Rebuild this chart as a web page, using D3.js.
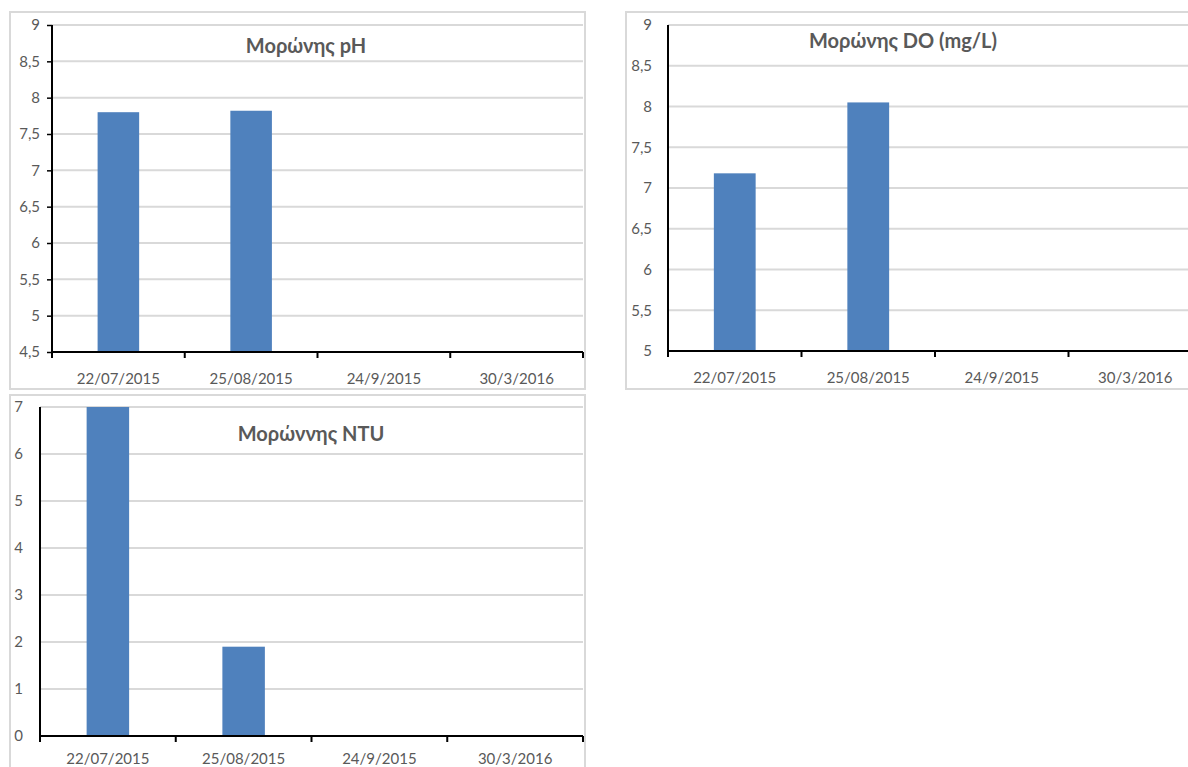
<!DOCTYPE html>
<html>
<head>
<meta charset="utf-8">
<script src="https://cdn.jsdelivr.net/npm/d3@7"></script>
<style>
  html, body { margin: 0; padding: 0; background: #ffffff; }
  svg { display: block; }
  text { font-family: Lato, "Noto Sans", sans-serif; fill: #595959; }
</style>
</head>
<body>
<svg id="chart" width="1188" height="767"></svg>
<script>
// Sampling dates shared by all three panels
const dates = ["22/07/2015", "25/08/2015", "24/9/2015", "30/3/2016"];

// Measured values (null = no measurement)
const phValues  = [7.80, 7.82, null, null];
const doValues  = [7.18, 8.05, null, null];
const ntuValues = [7.0, 1.9, null, null];

// Axis ticks
const phTicks  = [4.5, 5, 5.5, 6, 6.5, 7, 7.5, 8, 8.5, 9];
const doTicks  = [5, 5.5, 6, 6.5, 7, 7.5, 8, 8.5, 9];
const ntuTicks = [0, 1, 2, 3, 4, 5, 6, 7];

// Panel titles
const phTitle  = "Μορώνης pH";
const doTitle  = "Μορώνης DO (mg/L)";
const ntuTitle = "Μορώννης NTU";

const svg = d3.select("#chart");
const fmt = v => String(v).replace(".", ",");

function panel(opts) {
  const g = svg.append("g");
  // chart frame
  g.append("rect")
    .attr("x", opts.frame[0]).attr("y", opts.frame[1])
    .attr("width", opts.frame[2]).attr("height", opts.frame[3])
    .attr("fill", "#fff").attr("stroke", "#d9d9d9").attr("stroke-width", 2);

  const x = d3.scaleBand().domain(dates)
    .range([opts.left, opts.right]).paddingInner(0.687).paddingOuter(0.3435);
  const xb = d3.scaleBand().domain(dates).range([opts.left, opts.right]);
  const y = d3.scaleLinear().domain([opts.ticks[0], opts.ticks[opts.ticks.length - 1]])
    .range([opts.bottom, opts.top]);

  // horizontal gridlines
  g.append("g").selectAll("line").data(opts.ticks.slice(1)).join("line")
    .attr("x1", opts.left).attr("x2", opts.right)
    .attr("y1", d => y(d)).attr("y2", d => y(d))
    .attr("stroke", "#d9d9d9").attr("stroke-width", 2);

  // bars
  g.append("g").selectAll("rect")
    .data(dates.map((d, i) => ({ d, v: opts.values[i] })).filter(o => o.v != null))
    .join("rect")
    .attr("x", o => x(o.d)).attr("width", x.bandwidth())
    .attr("y", o => y(o.v)).attr("height", o => y(opts.ticks[0]) - y(o.v))
    .attr("fill", "#4f81bd");

  // y axis
  const yAxis = d3.axisLeft(y).tickValues(opts.ticks).tickFormat(fmt)
    .tickSize(opts.yTickSize).tickPadding(opts.yPad);
  const ya = g.append("g").attr("transform", `translate(${opts.left},0)`).call(yAxis);
  ya.select(".domain").attr("stroke", "#000").attr("stroke-width", 2)
    .attr("d", `M0,${opts.bottom}V${opts.top}`);
  ya.selectAll(".tick line").attr("stroke", "#000").attr("stroke-width", 1.5);
  ya.selectAll("text").style("font-size", "15px").attr("fill", "#595959");

  // x axis with ticks at the category boundaries
  const xa = g.append("g").attr("transform", `translate(0,${opts.bottom})`);
  xa.append("line").attr("x1", opts.left - 1).attr("x2", opts.right)
    .attr("stroke", "#000").attr("stroke-width", 2);
  const bounds = dates.map(d => xb(d)).concat([opts.right]);
  xa.selectAll("line.tk").data(bounds).join("line").attr("class", "tk")
    .attr("x1", d => d).attr("x2", d => d).attr("y1", 0).attr("y2", 6)
    .attr("stroke", "#000").attr("stroke-width", 2);
  xa.selectAll("text").data(dates).join("text")
    .attr("x", d => xb(d) + xb.bandwidth() / 2).attr("y", opts.labelDy)
    .attr("text-anchor", "middle").attr("dominant-baseline", "central")
    .style("font-size", "15px").text(d => d);

  // title
  g.append("text").attr("x", opts.titleX).attr("y", opts.titleY)
    .attr("text-anchor", "middle").attr("dominant-baseline", "central")
    .style("font-size", "20px").style("font-weight", "bold").text(opts.title);
}

panel({ frame: [10, 12, 575, 377], left: 52, right: 583, top: 25, bottom: 352,
        ticks: phTicks, values: phValues, yTickSize: 5, yPad: 7, labelDy: 26,
        title: phTitle, titleX: 306, titleY: 45 });

panel({ frame: [626, 12, 575, 377], left: 668, right: 1202, top: 25, bottom: 351,
        ticks: doTicks, values: doValues, yTickSize: 0, yPad: 16, labelDy: 26,
        title: doTitle, titleX: 903, titleY: 40 });

panel({ frame: [10, 395, 575, 378], left: 40, right: 583, top: 407, bottom: 736,
        ticks: ntuTicks, values: ntuValues, yTickSize: 0, yPad: 17, labelDy: 22,
        title: ntuTitle, titleX: 311, titleY: 433 });
</script>
</body>
</html>
